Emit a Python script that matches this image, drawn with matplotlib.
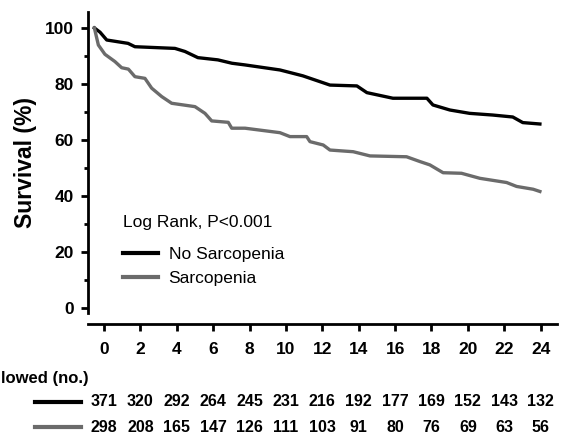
import matplotlib
matplotlib.use('Agg')
import matplotlib.pyplot as plt
from matplotlib.ticker import MultipleLocator
from matplotlib.lines import Line2D
from matplotlib.transforms import blended_transform_factory

plt.rcParams['font.family'] = ['Liberation Sans', 'DejaVu Sans']

# survival curves (months, %)
no_sarc_t = [-0.53, -0.22, 0.15, 1.32, 1.70, 3.90, 4.45, 5.16, 6.26, 7.03, 7.75, 9.67,
             10.93, 12.42, 13.9, 14.45, 15.88, 17.75, 18.08, 19.01, 20.1, 21.37, 22.47, 23.02, 23.96]
no_sarc_s = [100, 98.5, 95.7, 94.5, 93.3, 92.7, 91.6, 89.4, 88.6, 87.4, 86.8, 85,
             82.9, 79.6, 79.3, 76.9, 74.9, 74.9, 72.5, 70.7, 69.5, 68.9, 68.2, 66.2, 65.7]

sarc_t = [-0.53, -0.31, 0.05, 0.60, 0.97, 1.34, 1.70, 2.25, 2.62, 3.17, 3.72, 5.0, 5.55, 5.92,
          6.83, 7.02, 7.75, 9.67, 10.22, 11.14, 11.32, 12.05, 12.42, 13.70, 14.62, 16.63,
          17.36, 17.91, 18.64, 19.65, 20.66, 22.13, 22.68, 23.59, 23.96]
sarc_s = [100, 93.9, 90.6, 88, 85.8, 85.3, 82.6, 82, 78.5, 75.5, 73.1, 71.9, 69.5, 66.8,
          66.3, 64.2, 64.2, 62.6, 61.2, 61.2, 59.4, 58.2, 56.4, 55.8, 54.3, 54.0,
          52.3, 51.1, 48.3, 48.1, 46.3, 44.8, 43.4, 42.4, 41.6]

months = [0, 2, 4, 6, 8, 10, 12, 14, 16, 18, 20, 22, 24]
at_risk_no = [371, 320, 292, 264, 245, 231, 216, 192, 177, 169, 152, 143, 132]
at_risk_sarc = [298, 208, 165, 147, 126, 111, 103, 91, 80, 76, 69, 63, 56]

black = '#000000'
gray = '#6b6b6b'

fig = plt.figure(figsize=(5.61, 4.33), dpi=100)
ax = fig.add_axes([88/561, 120/433, 469/561, 301/433])

ax.plot(no_sarc_t, no_sarc_s, color=black, lw=2.4, label='No Sarcopenia')
ax.plot(sarc_t, sarc_s, color=gray, lw=2.4, label='Sarcopenia')

ax.set_xlim(-0.88, 24.9)
ax.set_ylim(-1.8, 105.7)
ax.set_xticks(months)
ax.set_yticks([0, 20, 40, 60, 80, 100])
ax.yaxis.set_minor_locator(MultipleLocator(10))

for s in ['top', 'right']:
    ax.spines[s].set_visible(False)
ax.spines['left'].set_linewidth(2)
ax.spines['bottom'].set_linewidth(2)
ax.spines['bottom'].set_position(('outward', 8))

ax.tick_params(axis='both', which='major', width=2, length=5, labelsize=12.5, pad=5)
ax.tick_params(axis='y', which='minor', width=2, length=3)
ax.tick_params(axis='x', pad=8)
for lab in ax.get_xticklabels() + ax.get_yticklabels():
    lab.set_fontweight('bold')

ax.set_ylabel('Survival (%)', fontsize=16.5, fontweight='bold', labelpad=6)

fig.text(123/561, 1 - 222/433, 'Log Rank, P<0.001', ha='left', va='center', fontsize=12.5)
leg = ax.legend(loc='upper left', frameon=False,
                bbox_to_anchor=(107/561, 1 - 231/433), bbox_transform=fig.transFigure,
                fontsize=12.5, handlelength=2.05, handletextpad=0.6, labelspacing=0.5)
for h in leg.legend_handles:
    h.set_linewidth(3)

# numbers at risk (label is cut by the left edge in the source figure)
fig.text(1/561, 1 - 378/433, 'lowed (no.)', ha='left', va='center',
         fontsize=12, fontweight='bold')
trans = blended_transform_factory(ax.transData, fig.transFigure)
for vals, col, ypx in [(at_risk_no, black, 402), (at_risk_sarc, gray, 427)]:
    yf = 1 - ypx/433
    fig.add_artist(Line2D([35/561, 81/561], [yf, yf], color=col, lw=3,
                          transform=fig.transFigure))
    for m, v in zip(months, vals):
        fig.text(m, yf, str(v), transform=trans, ha='center', va='center',
                 fontsize=11.5, fontweight='bold')

fig.savefig('out.png', dpi=100)
